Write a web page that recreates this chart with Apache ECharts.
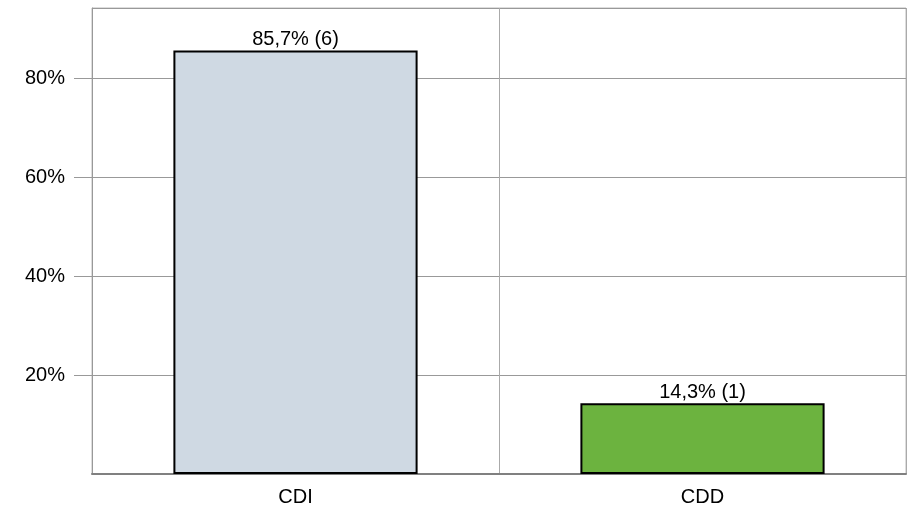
<!DOCTYPE html>
<html>
<head>
<meta charset="utf-8">
<script src="https://cdn.jsdelivr.net/npm/echarts@6/dist/echarts.min.js"></script>
<style>
  html, body { margin: 0; padding: 0; background: #fff; }
  #chart { width: 910px; height: 511px; }
</style>
</head>
<body>
<div id="chart"></div>
<script>
var categories = ['CDI', 'CDD'];
var percents = [85.7, 14.3];
var counts = [6, 1];
var barColors = ['#cfd9e3', '#6cb33f'];
var yMax = 94.3;

var myChart = echarts.init(document.getElementById('chart'));

var barData = [];
for (var i = 0; i < categories.length; i++) {
    barData.push({
        value: percents[i],
        count: counts[i],
        itemStyle: { color: barColors[i] }
    });
}

var option = {
    animation: false,
    textStyle: { fontFamily: 'Liberation Sans, Arial, sans-serif' },
    grid: {
        left: 92, right: 4, top: 8, bottom: 37,
        show: true, borderColor: '#bbbbbb', borderWidth: 1
    },
    xAxis: {
        type: 'category',
        data: categories,
        axisLine: { lineStyle: { color: '#808080', width: 2 } },
        axisTick: { show: false },
        splitLine: { show: true, lineStyle: { color: '#aaaaaa', width: 1 } },
        axisLabel: { color: '#000', fontSize: 20, margin: 13 }
    },
    yAxis: {
        type: 'value',
        min: 0,
        max: yMax,
        interval: 20,
        axisLine: { show: true, lineStyle: { color: '#999999' } },
        axisTick: { show: true, length: 18, lineStyle: { color: '#999999' } },
        splitLine: { lineStyle: { color: '#999999', width: 1 } },
        axisLabel: {
            color: '#000', fontSize: 20, margin: 27,
            showMinLabel: false, showMaxLabel: false,
            formatter: function (v) {
                if (v === 0 || v % 20 !== 0) return '';
                return v + '%';
            }
        }
    },
    series: [{
        type: 'bar',
        barWidth: '60%',
        data: barData,
        itemStyle: { borderColor: '#000', borderWidth: 2 },
        label: {
            show: true,
            position: 'top',
            distance: 1,
            color: '#000',
            fontSize: 20,
            formatter: function (p) {
                return String(p.value).replace('.', ',') + '% (' + p.data.count + ')';
            }
        }
    }]
};

myChart.setOption(option, true);
window.addEventListener('resize', function () {
    myChart.resize();
});
</script>
</body>
</html>
